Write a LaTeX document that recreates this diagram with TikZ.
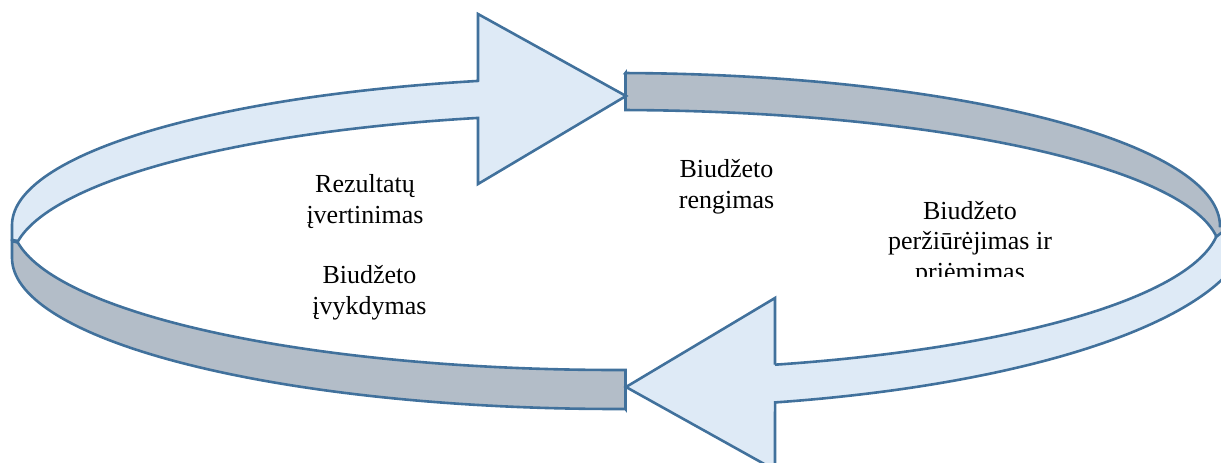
\documentclass[tikz,border=0pt]{standalone}
\usepackage{fontspec}
\setmainfont{Liberation Serif}
\definecolor{ringline}{HTML}{41719C}
\definecolor{ringlight}{HTML}{DEEAF6}
\definecolor{ringgray}{HTML}{B3BDC8}
\begin{document}
\begin{tikzpicture}[x=1pt,y=-1pt,
  face/.style={draw=ringline, line width=2.6pt, line join=miter},
  lightface/.style={face, fill=ringlight},
  sideface/.style={face, fill=ringgray},
  txt/.style={align=center, anchor=base, inner sep=0pt,
    font=\fontsize{26}{30.5}\selectfont}]
\useasboundingbox (0,0) rectangle (1221,463);
\begin{scope}
\clip (0,0) rectangle (1221,463);
% upper right band (far side, grey)
\filldraw[sideface] (625.5,73)
  -- plot[variable=\t, domain=89.1:0, samples=70] ({616+604*cos(\t)},{226-153*sin(\t)})
  -- (1235,226) -- (1235,232) -- (1216.6,237)
  -- plot[variable=\t, domain=6.06:89.1, samples=70] ({616+604*cos(\t)},{252-142*sin(\t)})
  -- cycle;
% lower left band (near side, grey)
\filldraw[sideface] (12,241)
  -- plot[variable=\t, domain=188:270.9, samples=70] ({616+604*cos(\t)},{222-148*sin(\t)})
  -- (625.5,409)
  -- plot[variable=\t, domain=270.9:180, samples=70] ({616+604*cos(\t)},{258-151*sin(\t)})
  -- cycle;
% upper left arrow
\filldraw[lightface] (626,96) -- (478,14) -- (478,80.9)
  -- plot[variable=\t, domain=103.21:180, samples=70] ({616+604*cos(\t)},{225-148*sin(\t)})
  -- (12,240)
  -- plot[variable=\t, domain=171.84:103.21, samples=70] ({616+604*cos(\t)},{262-148*sin(\t)})
  -- (478,184) -- cycle;
% lower right arrow
\filldraw[lightface] (626,387) -- (775,298) -- (775,364.7)
  -- plot[variable=\t, domain=285.26:353.5, samples=70] ({616+604*cos(\t)},{220-150*sin(\t)})
  -- (1235,222) -- (1235,270)
  -- plot[variable=\t, domain=345.4:283.53, samples=70] ({630+620*cos(\t)},{225.5-182*sin(\t)})
  -- (775,470) -- cycle;
\end{scope}
% stage captions (anchored at the baseline of the last line)
\node[txt] (rengimas) at (726.5,208) {Biudžeto\\rengimas};
\node[txt] (vertinimas) at (365,223) {Rezultatų\\įvertinimas};
\node[txt] (vykdymas) at (369.5,314) {Biudžeto\\įvykdymas};
\begin{scope}
\clip (850,190) rectangle (1100,276);
\node[txt] (perziura) at (970,280) {Biudžeto\\peržiūrėjimas ir\\priėmimas};
\end{scope}
\end{tikzpicture}
\end{document}
